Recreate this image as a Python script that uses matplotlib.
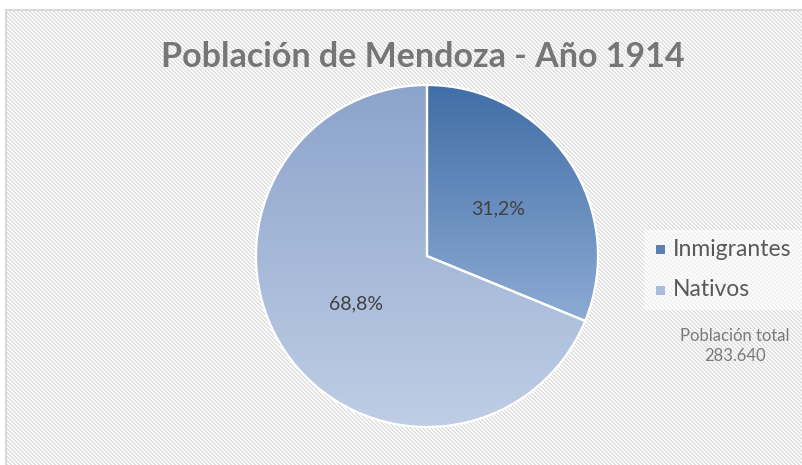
import numpy as np
import matplotlib
matplotlib.use("Agg")
import matplotlib.pyplot as plt
from matplotlib.patches import Rectangle

# data
categories = ["Inmigrantes", "Nativos"]
shares = [31.2, 68.8]
total_label = "Población total\n283.640"
title = "Población de Mendoza - Año 1914"

# gradient colours (top, bottom) per slice
grad_colors = [("#416ea6", "#8dabd4"), ("#8ca3cb", "#bfcee5")]
legend_colors = ["#5a80b6", "#a9bcdc"]

W, H = 803, 465
fig = plt.figure(figsize=(W / 100, H / 100), dpi=100)
fig.patch.set_facecolor("white")

# striped chart background
yy, xx = np.mgrid[0:H, 0:W]
stripes = ((xx - yy) % 4) < 2
bg = np.where(stripes, 0.985, 0.885)
bg_rgb = np.dstack([bg, bg, bg])
bg_rgb[:10, :] = 1.0
bg_rgb[:, :6] = 1.0
fig.figimage(np.flipud(bg_rgb), xo=0, yo=0, origin="lower", zorder=0)
fig.add_artist(Rectangle((6 / W, -0.01), 1.0, (H - 10) / H + 0.01, transform=fig.transFigure,
                         facecolor="none", edgecolor="#d9d9d9", linewidth=1.5, zorder=1))

# pie axes, center (427, 256) px from top, radius 171
cx, cy, r = 427, 256, 171
ax = fig.add_axes([(cx - r) / W, (H - cy - r) / H, 2 * r / W, 2 * r / H])
ax.patch.set_alpha(0)
ax.set_zorder(5)


def fmt(p):
    return f"{p:.1f}%".replace(".", ",")


wedges, texts, autotexts = ax.pie(shares, startangle=90, counterclock=False,
                                  autopct=fmt, pctdistance=0.5,
                                  wedgeprops=dict(edgecolor="white", linewidth=1.6),
                                  textprops=dict(color="#404040", fontsize=14, family="Lato"))

for w, (top, bot) in zip(wedges, grad_colors):
    ext = w.get_path().get_extents()
    c1 = np.array(matplotlib.colors.to_rgb(top))
    c2 = np.array(matplotlib.colors.to_rgb(bot))
    t = np.linspace(0, 1, 256)[:, None]
    img = (c1 * (1 - t) + c2 * t)[:, None, :]
    im = ax.imshow(img, extent=[ext.x0, ext.x1, ext.y0, ext.y1], origin="upper",
                   aspect="auto", zorder=1)
    im.set_clip_path(w)
    w.set_facecolor("none")
    w.set_zorder(2)
    w.set_clip_on(False)
for t in autotexts:
    t.set_zorder(3)
ax.set_xlim(-1, 1)
ax.set_ylim(-1, 1)
ax.set_aspect("equal")

# title
fig.text(423 / W, 1 - 57 / H, title, ha="center", va="center", fontsize=24.5,
         fontweight="bold", color="#767676", family="Lato")

# legend box
fig.add_artist(Rectangle((644 / W, 1 - 310 / H), 160 / W, 80 / H, transform=fig.transFigure,
                         facecolor="white", alpha=0.55, edgecolor="none", zorder=2))
for i, (name, col) in enumerate(zip(categories, legend_colors)):
    ycen = 1 - (250 + 40 * i) / H
    fig.add_artist(Rectangle((656 / W, ycen - 4.5 / H), 9 / W, 9 / H, transform=fig.transFigure,
                             facecolor=col, edgecolor="none", zorder=3))
    fig.text(673 / W, ycen, name, ha="left", va="center", fontsize=16.5,
             color="#595959", family="Lato", zorder=4)

fig.text(735 / W, 1 - 346 / H, total_label, ha="center", va="center", fontsize=12,
         color="#7a7a7a", family="Lato", linespacing=1.35)

fig.savefig("out.png", dpi=100)
